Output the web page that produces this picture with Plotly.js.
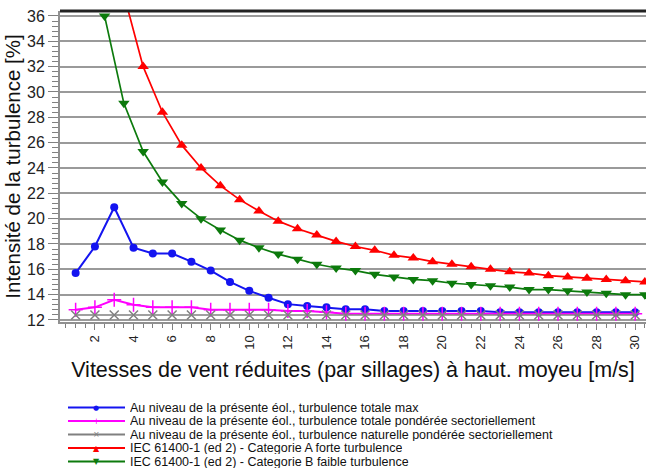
<!DOCTYPE html>
<html>
<head>
<meta charset="utf-8">
<script src="https://cdn.plot.ly/plotly-3.0.1.min.js"></script>
<style>html,body{margin:0;padding:0;background:#fff;} #chart{width:646px;height:471px;}</style>
</head>
<body>
<div id="chart"></div>
<script>
// ---- data ----
const speeds = [1,2,3,4,5,6,7,8,9,10,11,12,13,14,15,16,17,18,19,20,21,22,23,24,25,26,27,28,29,30];
const totalMax = [15.7,17.8,20.9,17.7,17.25,17.25,16.6,15.9,15.0,14.3,13.75,13.25,13.1,13.0,12.85,12.85,12.7,12.7,12.7,12.7,12.7,12.7,12.6,12.6,12.6,12.6,12.6,12.6,12.6,12.6];
const totalWeighted = [12.8,13.0,13.6,13.2,13.0,13.0,13.0,12.8,12.8,12.8,12.8,12.7,12.7,12.6,12.5,12.5,12.5,12.5,12.5,12.5,12.5,12.5,12.5,12.5,12.5,12.5,12.5,12.5,12.5,12.5];
const naturalWeighted = [12.4,12.4,12.4,12.4,12.4,12.4,12.4,12.4,12.4,12.4,12.4,12.4,12.4,12.4,12.4,12.4,12.4,12.4,12.4,12.4,12.4,12.4,12.4,12.4,12.4,12.4,12.4,12.4,12.4,12.4];
const iecSpeedsA = [3.5,4.5,5.5,6.5,7.5,8.5,9.5,10.5,11.5,12.5,13.5,14.5,15.5,16.5,17.5,18.5,19.5,20.5,21.5,22.5,23.5,24.5,25.5,26.5,27.5,28.5,29.5,30.5];
const iecA = [37.7,32.0,28.4,25.8,24.0,22.6,21.5,20.6,19.8,19.2,18.7,18.2,17.8,17.5,17.1,16.9,16.6,16.4,16.2,16.0,15.8,15.7,15.5,15.4,15.3,15.2,15.1,15.0];
const iecSpeedsB = [2.5,3.5,4.5,5.5,6.5,7.5,8.5,9.5,10.5,11.5,12.5,13.5,14.5,15.5,16.5,17.5,18.5,19.5,20.5,21.5,22.5,23.5,24.5,25.5,26.5,27.5,28.5,29.5,30.5];
const iecB = [36.0,29.1,25.3,22.9,21.2,20.0,19.1,18.3,17.7,17.2,16.8,16.4,16.1,15.9,15.6,15.4,15.2,15.1,14.9,14.8,14.7,14.6,14.4,14.4,14.3,14.2,14.1,14.0,14.0];
const seriesNames = [
  "Au niveau de la présente éol., turbulence totale max",
  "Au niveau de la présente éol., turbulence totale pondérée sectoriellement",
  "Au niveau de la présente éol., turbulence naturelle pondérée sectoriellement",
  "IEC 61400-1 (ed 2) - Categorie A forte turbulence",
  "IEC 61400-1 (ed 2) - Categorie B faible turbulence"
];
const xTitle = "Vitesses de vent réduites (par sillages) à haut. moyeu [m/s]";
const yTitle = "Intensité de la turbulence [%]";

// ---- styles ----
const colors = ["#1414f0", "#ff00ff", "#808080", "#ff0000", "#0c7a0c"];
const symbols = ["circle", "cross-thin", "x-thin", "triangle-up", "triangle-down"];
const legendGlyphs = ["●", "+", "×", "▲", "▼"];
const FONT = "Liberation Sans, Arial, sans-serif";

const W = 646, H = 471;
const M = {l: 60, r: 0, t: 11, b: 149};
const pw = W - M.l - M.r, ph = H - M.t - M.b;
const px2x = px => (px - M.l) / pw;
const py2y = py => (H - M.b - py) / ph;

const xs = [speeds, speeds, speeds, iecSpeedsA, iecSpeedsB];
const ys = [totalMax, totalWeighted, naturalWeighted, iecA, iecB];
const sizes = [8, 10, 9, 10, 10];
const widths = [2, 2, 1.5, 1.7, 1.7];

const traces = ys.map((y, i) => ({
  type: "scatter", mode: "lines+markers",
  x: xs[i], y: y, name: seriesNames[i], showlegend: false,
  line: {color: colors[i], width: widths[i]},
  marker: {symbol: symbols[i], size: sizes[i], color: colors[i],
           line: {color: colors[i], width: (i === 1 || i === 2) ? 1.5 : 0}},
  cliponaxis: true
}));

// manual legend
const rows = [407.5, 421, 434.5, 448, 461.5];
const shapes = [{type: "line", xref: "paper", yref: "paper", x0: 0, x1: 1, y0: 1, y1: 1,
                 line: {color: "#222", width: 3}}];
const annotations = [];
rows.forEach((ry, i) => {
  shapes.push({type: "line", xref: "paper", yref: "paper",
    x0: px2x(68), x1: px2x(125), y0: py2y(ry), y1: py2y(ry),
    line: {color: colors[i], width: 2}});
  annotations.push({xref: "paper", yref: "paper", x: px2x(96), y: py2y(ry),
    text: legendGlyphs[i], showarrow: false, xanchor: "center", yanchor: "middle",
    font: {family: "DejaVu Sans", size: i === 0 ? 7 : 8, color: colors[i]}});
  annotations.push({xref: "paper", yref: "paper", x: px2x(129), y: py2y(ry),
    text: seriesNames[i], showarrow: false, xanchor: "left", yanchor: "middle",
    height: 12, borderpad: 0, valign: "middle",
    font: {family: FONT, size: 12.5, color: "#111"}});
});

const layout = {
  width: W, height: H, margin: M,
  paper_bgcolor: "#fff", plot_bgcolor: "#fff",
  font: {family: FONT, color: "#111"},
  showlegend: false,
  xaxis: {
    range: [0.19, 30.56], tickmode: "linear", tick0: 0, dtick: 2,
    ticks: "outside", ticklen: 6, tickwidth: 1, tickcolor: "#808080",
    tickangle: -90, tickfont: {family: FONT, size: 13, color: "#222"},
    minor: {dtick: 0.5, ticks: "outside", ticklen: 4, tickcolor: "#808080", showgrid: false},
    showline: true, linecolor: "#909090", linewidth: 2,
    showgrid: false, zeroline: false,
    title: {text: xTitle, font: {family: FONT, size: 21.5, color: "#111"}, standoff: 13}
  },
  yaxis: {
    range: [11.84, 36.39], tickmode: "linear", tick0: 12, dtick: 2,
    ticks: "outside", ticklen: 10, tickwidth: 1, tickcolor: "#808080",
    tickfont: {family: FONT, size: 16, color: "#222"},
    minor: {dtick: 0.4, ticks: "outside", ticklen: 6, tickcolor: "#808080", showgrid: false},
    showline: true, linecolor: "#909090", linewidth: 2,
    showgrid: true, gridcolor: "#9a9a9a", gridwidth: 2, zeroline: false,
    title: {text: yTitle, font: {family: FONT, size: 20.5, color: "#111"}, standoff: 1}
  },
  shapes: shapes,
  annotations: annotations
};

Plotly.newPlot("chart", traces, layout, {staticPlot: true, displayModeBar: false});
</script>
</body>
</html>
